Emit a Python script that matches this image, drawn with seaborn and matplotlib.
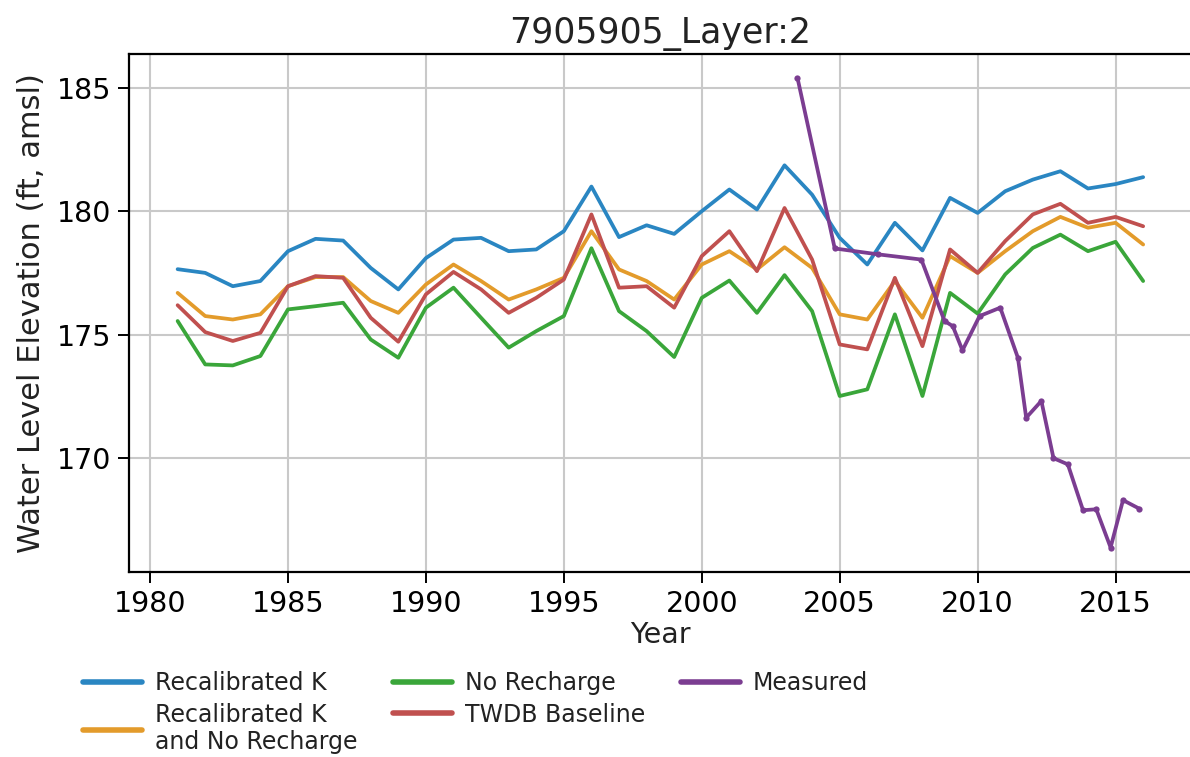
import numpy as np
import pandas as pd
import matplotlib
matplotlib.use("Agg")
import matplotlib.pyplot as plt
import seaborn as sns

# ---- data ----
years = list(range(1981, 2017))
recal_k = [177.65, 177.5, 176.96, 177.17, 178.38, 178.88, 178.81, 177.7, 176.83, 178.1,
           178.85, 178.92, 178.38, 178.45, 179.19, 181.0, 178.95, 179.43, 179.08, 180.0,
           180.88, 180.07, 181.86, 180.67, 178.92, 177.84, 179.53, 178.41, 180.54, 179.93,
           180.81, 181.28, 181.62, 180.92, 181.1, 181.38]
recal_k_no_recharge = [176.69, 175.75, 175.61, 175.82, 176.96, 177.33, 177.33, 176.36, 175.88, 177.03,
                       177.84, 177.17, 176.42, 176.83, 177.3, 179.19, 177.64, 177.17, 176.42, 177.84,
                       178.38, 177.64, 178.54, 177.7, 175.82, 175.61, 177.17, 175.68, 178.18, 177.5,
                       178.38, 179.19, 179.77, 179.33, 179.53, 178.65]
no_recharge = [175.55, 173.79, 173.75, 174.13, 176.02, 176.15, 176.29, 174.8, 174.06, 176.09,
               176.9, 175.68, 174.47, 175.14, 175.75, 178.5, 175.95, 175.14, 174.09, 176.49,
               177.19, 175.88, 177.41, 175.95, 172.51, 172.78, 175.82, 172.51, 176.69, 175.85,
               177.44, 178.51, 179.05, 178.38, 178.76, 177.17]
twdb_baseline = [176.19, 175.1, 174.74, 175.07, 176.96, 177.37, 177.3, 175.68, 174.71, 176.63,
                 177.54, 176.83, 175.88, 176.49, 177.23, 179.87, 176.9, 176.96, 176.09, 178.18,
                 179.19, 177.57, 180.13, 178.04, 174.6, 174.4, 177.3, 174.53, 178.45, 177.5,
                 178.79, 179.87, 180.3, 179.53, 179.77, 179.39]
measured_years = [2003.47, 2004.82, 2006.4, 2007.96, 2008.8, 2009.1, 2009.45, 2010.07, 2010.82,
                  2011.46, 2011.76, 2012.31, 2012.75, 2013.27, 2013.82, 2014.3, 2014.82, 2015.27, 2015.85]
measured = [185.4, 178.49, 178.25, 178.04, 175.55, 175.34, 174.36, 175.75, 176.09,
            174.06, 171.63, 172.31, 169.99, 169.74, 167.88, 167.92, 166.37, 168.29, 167.95]

series_names = ["Recalibrated K", "Recalibrated K\nand No Recharge", "No Recharge", "TWDB Baseline"]
series_values = [recal_k, recal_k_no_recharge, no_recharge, twdb_baseline]
colors = {"Recalibrated K": "#2a86c2",
          "Recalibrated K\nand No Recharge": "#e39b2b",
          "No Recharge": "#3aa63a",
          "TWDB Baseline": "#c0504f",
          "Measured": "#7b3d91"}

title = "7905905_Layer:2"
xlabel = "Year"
ylabel = "Water Level Elevation (ft, amsl)"
xticks = [1980, 1985, 1990, 1995, 2000, 2005, 2010, 2015]
yticks = [170, 175, 180, 185]

# ---- style ----
sns.set_style("whitegrid", {"axes.edgecolor": "black",
                            "grid.color": "#c9c9c9",
                            "xtick.bottom": True, "ytick.left": True,
                            "xtick.color": "black", "ytick.color": "black",
                            "axes.labelcolor": "#222222", "text.color": "#222222"})
plt.rcParams["font.family"] = ["DejaVu Sans"]

fig = plt.figure(figsize=(11.9, 7.57), dpi=100)
ax = fig.add_axes([0.1087, 0.2448, 0.8925, 0.6835])

long_rows = []
for name, vals in zip(series_names, series_values):
    for y, v in zip(years, vals):
        long_rows.append({"Year": y, "Value": v, "Series": name})
df = pd.DataFrame(long_rows)

for name in series_names:
    sub = df[df["Series"] == name]
    sns.lineplot(data=sub, x="Year", y="Value", ax=ax, color=colors[name],
                 linewidth=2.7, label=name, sort=False)

mdf = pd.DataFrame({"Year": measured_years, "Value": measured})
sns.lineplot(data=mdf, x="Year", y="Value", ax=ax, color=colors["Measured"],
             linewidth=2.7, marker="o", markersize=4.5, markeredgewidth=0,
             label="Measured", sort=False)

ax.set_xlim(1979.25, 2017.75)
ax.set_ylim(165.39, 186.36)
ax.set_xticks(xticks)
ax.set_yticks(yticks)
ax.grid(True, linewidth=1.5)
for s in ax.spines.values():
    s.set_linewidth(1.6)
    s.set_color("black")
ax.spines["right"].set_visible(False)
ax.tick_params(axis="both", which="major", length=8, width=1.4, labelsize=20.5,
               direction="out", pad=5)
ax.set_xlabel(xlabel, fontsize=20.5, labelpad=2)
ax.set_ylabel(ylabel, fontsize=22, labelpad=8)
ax.set_title(title, fontsize=25, pad=8)

handles, labels = ax.get_legend_handles_labels()
leg = ax.legend(handles, labels, ncol=3, frameon=False, fontsize=17,
                loc="upper left", bbox_to_anchor=(0.07, 0.113), bbox_transform=fig.transFigure,
                handlelength=2.5, handletextpad=0.55, columnspacing=1.5,
                labelspacing=0.3, borderaxespad=0, borderpad=0)
for h in leg.get_lines():
    h.set_linewidth(4)
    h.set_marker("")

fig.savefig("out.png", dpi=100)
